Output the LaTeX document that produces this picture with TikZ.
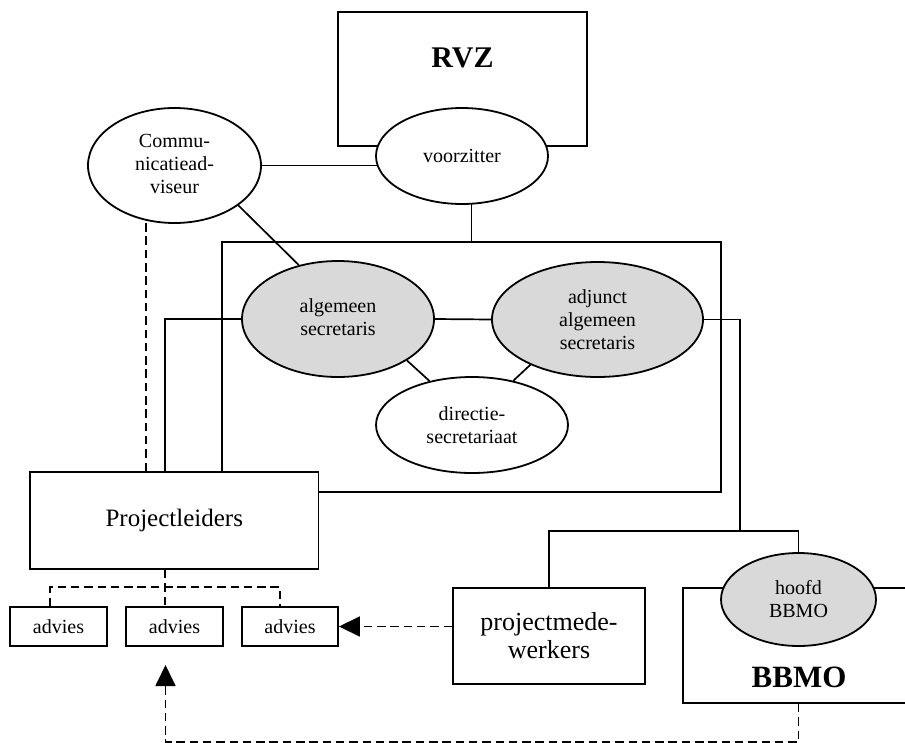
\documentclass[tikz,border=0pt]{standalone}
\usepackage{fontspec}
\setmainfont{Liberation Serif}
\usetikzlibrary{shapes.geometric,arrows.meta,backgrounds}
\definecolor{ovalgray}{RGB}{217,217,217}
\begin{document}
\begin{tikzpicture}[x=1pt,y=-1pt,
  box/.style={draw, line width=1.9pt, fill=white, rectangle, inner sep=0pt, align=center, font=\fontsize{20}{23}\selectfont},
  oval/.style={draw, line width=1.8pt, fill=white, ellipse, inner sep=0pt, align=center, font=\fontsize{20}{23}\selectfont},
  grayoval/.style={oval, fill=ovalgray},
  conn/.style={line width=1.7pt},
  dconn/.style={line width=1.8pt, dash pattern=on 8.5pt off 4.8pt},
  bigarrow/.style={-{Triangle[length=21pt,width=20pt]}},
  boldlabel/.style={font=\bfseries\fontsize{30}{36}\selectfont, inner sep=0pt}
]
\clip (0,0) rectangle (905,742);

% RVZ
\node[box, minimum width=249pt, minimum height=134pt] (rvz) at (462.5,79) {};
\node[boldlabel] (rvzlabel) at (462.5,58) {RVZ};
\node[oval, minimum width=172pt, minimum height=96pt] (voorz) at (462,156) {voorzitter};

% Communicatieadviseur
\node[oval, minimum width=173pt, minimum height=115pt] (comm) at (174.5,165.5)
  {\raisebox{-4.5pt}{\begin{tabular}{@{}c@{}}Commu-\\nicatiead-\\viseur\end{tabular}}};

% big box
\node[draw, line width=1.9pt, rectangle, inner sep=0pt, minimum width=499pt, minimum height=250pt] (big) at (471.5,367) {};
\node[grayoval, minimum width=192pt, minimum height=116pt] (alg) at (338,319)
  {\raisebox{8pt}{\begin{tabular}{@{}c@{}}algemeen\\secretaris\end{tabular}}};
\node[grayoval, minimum width=211pt, minimum height=115pt] (adj) at (597.5,319.5)
  {adjunct\\algemeen\\secretaris};
\node[oval, minimum width=192pt, minimum height=96pt] (dir) at (472,425)
  {directie-\\secretariaat};

% Projectleiders and advies
\node[box, minimum width=288.5pt, minimum height=97pt, font=\fontsize{25}{30}\selectfont] (proj) at (174.25,520.5) {Projectleiders};
\node[box, minimum width=97pt, minimum height=39pt] (a1) at (58.5,626.5) {advies};
\node[box, minimum width=97pt, minimum height=39pt] (a2) at (174.5,626.5) {advies};
\node[box, minimum width=96pt, minimum height=39pt] (a3) at (290,626.5) {advies};

% projectmedewerkers
\node[box, minimum width=192pt, minimum height=96pt, font=\fontsize{26}{28}\selectfont] (pm) at (549,636) {projectmede-\\werkers};

% BBMO
\node[box, minimum width=277pt, minimum height=115pt] (bbmo) at (821.5,645.5) {};
\node[boldlabel, font=\bfseries\fontsize{31}{36}\selectfont] (bbmolabel) at (799,677) {BBMO};
\node[grayoval, minimum width=155pt, minimum height=93pt] (hoofd) at (798.5,599.5) {hoofd\\BBMO};

\coordinate (split) at (740,531);
\coordinate (tip) at (165.5,665);

\begin{scope}[on background layer]
  \draw[conn] (comm.east) -- (voorz.center |- comm.east);
  \draw[conn] (big.north) -- (big.north |- voorz.center);
  \draw[conn] (comm.-32.5) -- (alg.126);
  \draw[conn] (alg.east) -- (adj.west);
  \draw[conn] (alg.-31.4) -- (dir.134.3);
  \draw[conn] (adj.-146.6) -- (dir.47);
  \draw[conn] (alg.west) -| ([xshift=-9.25pt]proj.north);
  \draw[conn] (adj.east) -| (split);
  \draw[conn] (pm.north) |- (hoofd.north |- split) -- (hoofd.north);

  \draw[dconn] ([xshift=-28.25pt]proj.north) -- ([xshift=-28.25pt]proj.north |- comm.center);
  \draw[dconn] ([xshift=-9.25pt]proj.south) -- ([xshift=-9.25pt]proj.south |- a2.north);
  \draw[dconn] ([xshift=-8.5pt]a1.north) -- ++(0,-19) -| ([xshift=-10pt]a3.north);
  \draw[dconn, bigarrow] (pm.west |- a3.east) -- (a3.east);
  \draw[dconn, bigarrow] (hoofd.center |- bbmo.south) -- ++(0,38) -| (tip);
\end{scope}
\end{tikzpicture}
\end{document}
